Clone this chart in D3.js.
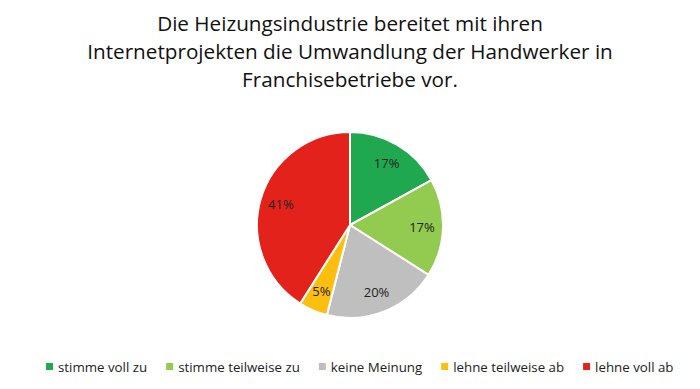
<!DOCTYPE html>
<html lang="de">
<head>
<meta charset="UTF-8">
<title>Heizungsindustrie</title>
<style>
  body { margin: 0; background: #fff; }
  svg { font-family: "Open Sans", "Noto Sans", sans-serif; }
</style>
</head>
<body>
<div id="chart"></div>
<script src="https://d3js.org/d3.v7.min.js"></script>
<script>
// Daten
var categories = ["stimme voll zu", "stimme teilweise zu", "keine Meinung", "lehne teilweise ab", "lehne voll ab"];
var values = [17, 17, 20, 5, 41];
var colors = ["#1fa84f", "#92cb4f", "#bfbfbf", "#fdbf0f", "#e3231b"];
var titleLines = ["Die Heizungsindustrie bereitet mit ihren",
                  "Internetprojekten die Umwandlung der Handwerker in",
                  "Franchisebetriebe vor."];

var width = 700, height = 389;
var cx = 350, cy = 225, radius = 93;

var svg = d3.select("#chart").append("svg")
    .attr("width", width)
    .attr("height", height);

// Titel
svg.append("g").selectAll("text")
    .data(titleLines)
    .enter().append("text")
    .attr("x", width / 2)
    .attr("y", function (d, i) { return 31 + i * 28; })
    .attr("text-anchor", "middle")
    .attr("font-size", 20.7)
    .attr("fill", "#111")
    .text(function (d) { return d; });

var data = categories.map(function (c, i) { return { name: c, value: values[i], color: colors[i] }; });

var pie = d3.pie().sort(null).value(function (d) { return d.value; });
var arc = d3.arc().innerRadius(0).outerRadius(radius);
var labelArc = d3.arc().innerRadius(72).outerRadius(72);

var g = svg.append("g").attr("transform", "translate(" + cx + "," + cy + ")");

g.selectAll("path")
    .data(pie(data))
    .enter().append("path")
    .attr("d", arc)
    .attr("fill", function (d) { return d.data.color; })
    .attr("stroke", "#fff")
    .attr("stroke-width", 2);

g.selectAll("text")
    .data(pie(data))
    .enter().append("text")
    .attr("transform", function (d) { return "translate(" + labelArc.centroid(d) + ")"; })
    .attr("text-anchor", "middle")
    .attr("dy", "0.35em")
    .attr("font-size", 13)
    .attr("fill", "#222")
    .text(function (d) { return d.data.value + "%"; });

// Legende
var legend = svg.append("g").attr("transform", "translate(0,367)");
var x = 46;
data.forEach(function (d) {
    var item = legend.append("g").attr("transform", "translate(" + x + ",0)");
    item.append("rect")
        .attr("x", 0).attr("y", -4)
        .attr("width", 7).attr("height", 7)
        .attr("fill", d.color);
    var t = item.append("text")
        .attr("x", 12)
        .attr("y", 0)
        .attr("dy", "0.35em")
        .attr("font-size", 13.3)
        .attr("fill", "#222")
        .text(d.name);
    x += 12 + t.node().getComputedTextLength() + 19;
});
</script>
</body>
</html>
